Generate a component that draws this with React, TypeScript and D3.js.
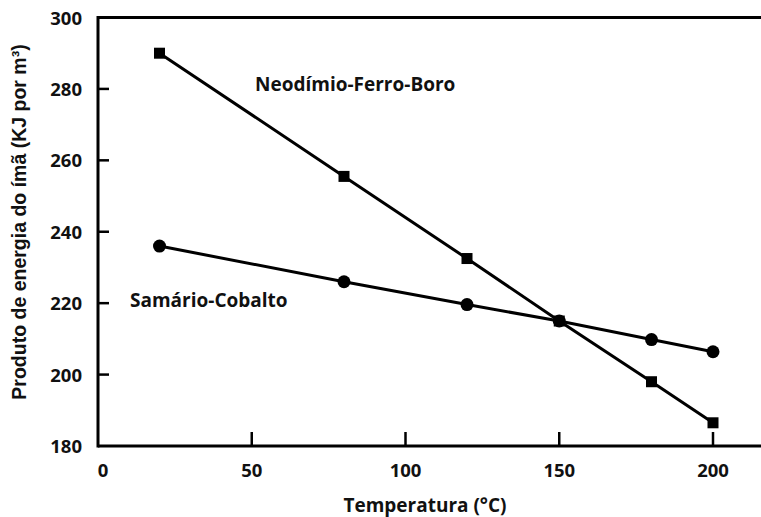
import React from "react";
import * as d3 from "d3";

const temperatures = [20, 80, 120, 150, 180, 200];
const neodimio = [290, 255.5, 232.5, 215, 198, 186.5];
const samario = [236, 226, 219.6, 215, 209.8, 206.4];
const xTicks = [0, 50, 100, 150, 200];
const yTicks = [180, 200, 220, 240, 260, 280, 300];

const W = 761;
const H = 517;
const left = 98;
const top = 17.5;
const bottom = 446;

export default function App() {
  const x = d3.scaleLinear().domain([0, 200]).range([left, 713]);
  const y = d3.scaleLinear().domain([180, 300]).range([bottom, top]);
  const line = d3
    .line<number>()
    .x((_, i) => x(temperatures[i]))
    .y((d) => y(d));

  const font = "'Open Sans', 'Liberation Sans', sans-serif";

  return (
    <svg
      width={W}
      height={H}
      style={{ position: "absolute", left: 0, top: 0, background: "#fff" }}
    >
      {/* frame: left, top and bottom axis lines */}
      <line x1={left} y1={top} x2={W} y2={top} stroke="#000" strokeWidth={3} />
      <line x1={left} y1={top - 1.5} x2={left} y2={bottom + 1.5} stroke="#000" strokeWidth={3} />
      <line x1={left} y1={bottom} x2={W} y2={bottom} stroke="#000" strokeWidth={3} />

      {yTicks.map((t) => (
        <g key={"y" + t}>
          {t > 180 && t < 300 && (
            <line x1={left} x2={left + 11} y1={y(t)} y2={y(t)} stroke="#000" strokeWidth={2.5} />
          )}
          <text
            x={82}
            y={y(t) + 7}
            textAnchor="end"
            fontFamily={font}
            fontWeight={700}
            fontSize={18.5}
            fill="#111"
          >
            {t}
          </text>
        </g>
      ))}

      {xTicks.map((t) => (
        <g key={"x" + t}>
          {t > 0 && (
            <line x1={x(t)} x2={x(t)} y1={bottom} y2={bottom - 14} stroke="#000" strokeWidth={2.5} />
          )}
          <text
            x={t === 0 ? x(t) + 5 : x(t)}
            y={477}
            textAnchor="middle"
            fontFamily={font}
            fontWeight={700}
            fontSize={18.5}
            fill="#111"
          >
            {t}
          </text>
        </g>
      ))}

      <path d={line(neodimio) || ""} fill="none" stroke="#000" strokeWidth={3} />
      <path d={line(samario) || ""} fill="none" stroke="#000" strokeWidth={3} />

      {samario.map((v, i) => (
        <circle key={"s" + i} cx={x(temperatures[i])} cy={y(v)} r={6.5} fill="#000" />
      ))}
      {neodimio.map((v, i) => (
        <rect
          key={"n" + i}
          x={x(temperatures[i]) - 5.5}
          y={y(v) - 5.5}
          width={11}
          height={11}
          fill="#000"
        />
      ))}

      <text x={255} y={91} fontFamily={font} fontWeight={700} fontSize={19} fill="#111">
        Neodímio-Ferro-Boro
      </text>
      <text x={130} y={307} fontFamily={font} fontWeight={700} fontSize={19} fill="#111">
        Samário-Cobalto
      </text>

      <text
        x={425}
        y={512}
        textAnchor="middle"
        fontFamily={font}
        fontWeight={700}
        fontSize={19}
        fill="#111"
      >
        Temperatura (°C)
      </text>
      <text
        transform={`translate(26, 222) rotate(-90)`}
        textAnchor="middle"
        fontFamily="'Liberation Sans', Arial, sans-serif"
        fontWeight={700}
        fontSize={19.5}
        fill="#111"
      >
        Produto de energia do ímã (KJ por m³)
      </text>
    </svg>
  );
}
